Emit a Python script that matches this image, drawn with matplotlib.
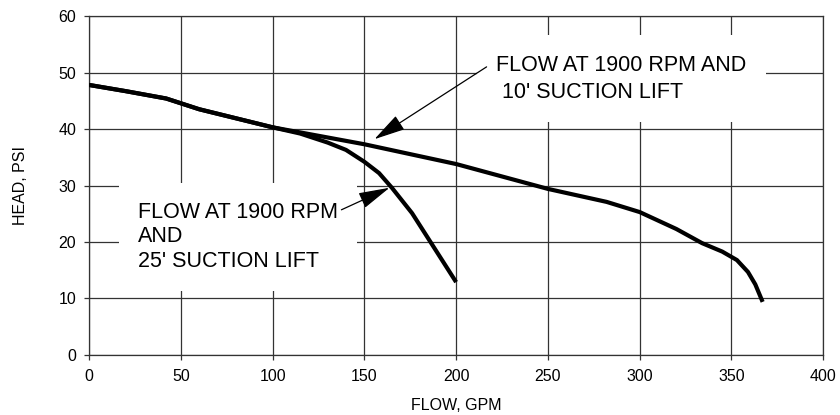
import matplotlib
matplotlib.use("Agg")
import matplotlib.pyplot as plt

plt.rcParams['font.family'] = ['Liberation Sans', 'DejaVu Sans']

# 10' suction lift curve
flow_10 = [0, 20, 42, 60, 100, 150, 200, 250, 282, 300, 320, 334, 345, 353, 359, 363, 367]
head_10 = [47.8, 46.7, 45.4, 43.5, 40.3, 37.3, 33.8, 29.4, 27.1, 25.3, 22.3, 19.8, 18.3, 16.8, 14.7, 12.5, 9.4]

# 25' suction lift curve
flow_25 = [0, 20, 42, 60, 100, 115, 130, 140, 150, 158, 165, 176, 188, 200]
head_25 = [47.8, 46.7, 45.4, 43.5, 40.3, 39.2, 37.6, 36.3, 34.2, 32.2, 29.6, 25.1, 19.0, 12.9]

x_ticks = [0, 50, 100, 150, 200, 250, 300, 350, 400]
y_ticks = [0, 10, 20, 30, 40, 50, 60]

label_10 = "FLOW AT 1900 RPM AND\n 10' SUCTION LIFT"
label_25 = "FLOW AT 1900 RPM\nAND\n25' SUCTION LIFT"

fig = plt.figure(figsize=(8.4, 4.15), dpi=100)
ax = fig.add_axes([0.106, 0.1446, 0.874, 0.8168])

ax.plot(flow_25, head_25, color='black', lw=3, solid_capstyle='butt', zorder=4)
ax.plot(flow_10, head_10, color='black', lw=3, solid_capstyle='butt', zorder=4)

ax.set_xlim(0, 400)
ax.set_ylim(0, 60)
ax.set_xticks(x_ticks)
ax.set_yticks(y_ticks)
ax.grid(True, color='#333333', lw=0.9)
ax.set_axisbelow(True)
for s in ax.spines.values():
    s.set_color('#333333')
    s.set_linewidth(0.9)
ax.tick_params(direction='out', length=3.3, width=0.9, color='#333333', labelsize=11.5)
ax.tick_params(axis='y', pad=6)
ax.tick_params(axis='x', pad=7)

ax.set_xlabel('FLOW, GPM', fontsize=11.5)
ax.set_ylabel('HEAD, PSI', fontsize=11.5)
ax.xaxis.set_label_coords(0.5, -0.127)
ax.yaxis.set_label_coords(-0.083, 0.5)

box = dict(boxstyle='square,pad=0.9', fc='white', ec='none')
ax.text(222, 48.9, label_10, fontsize=15.5, ha='left', va='center',
        linespacing=1.37, bbox=box, zorder=3)
ax.text(26.7, 20.9, label_25, fontsize=15.5, ha='left', va='center',
        linespacing=1.21, bbox=box, zorder=3)

arrow = dict(arrowstyle='-|>,head_length=1.5,head_width=0.39', color='black', lw=0.9,
             mutation_scale=13, shrinkA=0, shrinkB=0)
ax.annotate('', xy=(155.5, 38.2), xytext=(216.6, 51.0), arrowprops=arrow, zorder=5)
ax.annotate('', xy=(163.7, 29.6), xytext=(137.5, 25.7), arrowprops=arrow, zorder=5)

fig.savefig('out.png', dpi=100)
